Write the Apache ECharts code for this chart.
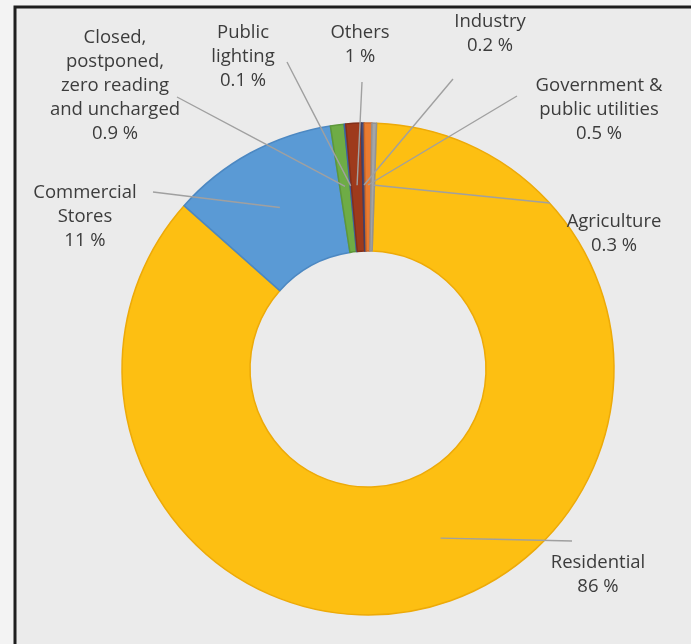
<!DOCTYPE html>
<html>
<head>
<meta charset="utf-8">
<script src="https://cdn.jsdelivr.net/npm/echarts@6/dist/echarts.min.js"></script>
<style>
  html, body { margin: 0; padding: 0; background: #F3F3F3; }
  #chart { width: 691px; height: 644px; }
</style>
</head>
<body>
<div id="chart"></div>
<script>
// Electricity consumers by tariff category (share of total, %)
const categories = [
  'Residential',
  'Commercial\nStores',
  'Closed,\npostponed,\nzero reading\nand uncharged',
  'Public\nlighting',
  'Others',
  'Industry',
  'Government &\npublic utilities',
  'Agriculture'
];
const shares = [86, 11, 0.9, 0.1, 1, 0.2, 0.5, 0.3];
const sliceColors = ['#FDBF12', '#5A9AD5', '#6EAC46', '#4472C4', '#9E3A1C', '#4C4F7C', '#EA7B31', '#A5A5A5'];
const sliceEdges  = ['#EDAA08', '#4C88C2', '#5E983A', '#3A62A8', '#83301A', '#3F4168', '#D06A28', '#939393'];

// Label block centres and the point where each leader line leaves the text
const labelSpots = [
  { x: 598, y: 575, lx: 572, ly: 541 },
  { x: 85,  y: 217, lx: 153, ly: 192 },
  { x: 115, y: 86,  lx: 177, ly: 97  },
  { x: 243, y: 57,  lx: 287, ly: 62  },
  { x: 360, y: 45,  lx: 362, ly: 82  },
  { x: 490, y: 34,  lx: 453, ly: 79  },
  { x: 599, y: 110, lx: 517, ly: 96  },
  { x: 614, y: 234, lx: 550, ly: 203 }
];

const CX = 368, CY = 369, R_IN = 118, R_OUT = 246, START = 88;
const total = shares.reduce((a, b) => a + b, 0);

// Mid-ring point of slice i, derived from the cumulative shares
function sliceAnchor(i) {
  let before = 0;
  for (let k = 0; k < i; k++) before += shares[k];
  const mid = (before + shares[i] / 2) / total * 2 * Math.PI;
  const ang = START * Math.PI / 180 - mid; // clockwise from START
  const r = (R_IN + R_OUT) / 2 + 2;
  return [CX + r * Math.cos(ang), CY - r * Math.sin(ang)];
}

const ringBase = {
  type: 'pie',
  center: [CX, CY],
  radius: [R_IN, R_OUT],
  startAngle: START,
  clockwise: true,
  avoidLabelOverlap: false,
  silent: true,
  emphasis: { disabled: true }
};

const chart = echarts.init(document.getElementById('chart'));
chart.setOption({
  backgroundColor: '#F3F3F3',
  animation: false,
  graphic: [{
    type: 'rect',
    z: -10,
    silent: true,
    shape: { x: 15, y: 7, width: 720, height: 680 },
    style: { fill: '#EBEBEB', stroke: '#1E1E1E', lineWidth: 3 }
  }],
  series: [
    // coloured ring
    Object.assign({}, ringBase, {
      z: 2,
      label: { show: false },
      labelLine: { show: false },
      data: categories.map((name, i) => ({
        name: name,
        value: shares[i],
        itemStyle: { color: sliceColors[i], borderColor: sliceEdges[i], borderWidth: 1.5 }
      }))
    }),
    // transparent twin carrying the labels, so leader lines sit above the ring
    Object.assign({}, ringBase, {
      z: 5,
      data: categories.map((name, i) => ({
        name: name,
        value: shares[i],
        itemStyle: { color: 'rgba(0,0,0,0)', borderWidth: 0 }
      })),
      label: {
        show: true,
        position: 'outside',
        formatter: p => p.name + '\n' + p.value + ' %',
        color: '#3C3C3C',
        fontFamily: 'Open Sans',
        fontSize: 18.5,
        lineHeight: 24,
        align: 'center'
      },
      labelLine: {
        show: true,
        length: 10,
        length2: 10,
        lineStyle: { color: '#A0A0A0', width: 1.4 }
      },
      labelLayout: function (params) {
        const i = params.dataIndex;
        const s = labelSpots[i];
        const a = sliceAnchor(i);
        return {
          x: s.x,
          y: s.y,
          align: 'center',
          verticalAlign: 'middle',
          labelLinePoints: [a, [(a[0] + s.lx) / 2, (a[1] + s.ly) / 2], [s.lx, s.ly]]
        };
      }
    })
  ]
});
</script>
</body>
</html>
